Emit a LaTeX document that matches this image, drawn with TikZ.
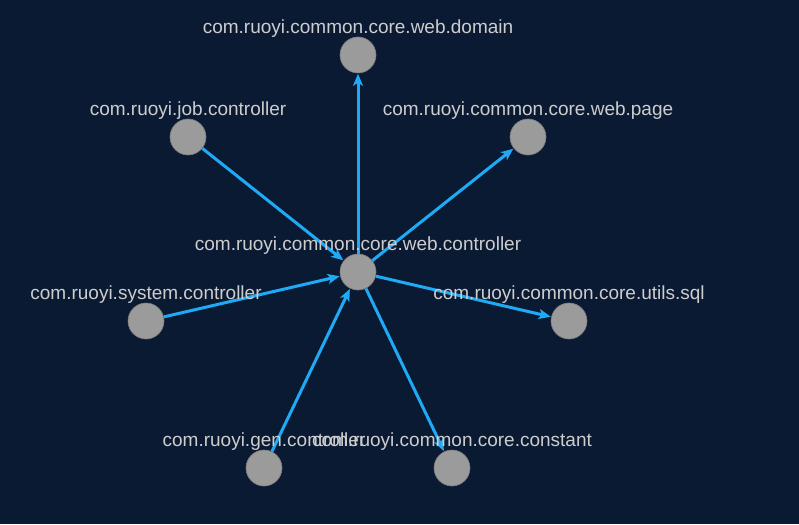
\documentclass[tikz,border=0pt]{standalone}
\usepackage{fontspec}
\setmainfont{Liberation Sans}
\usetikzlibrary{arrows.meta}
\definecolor{bgNavy}{RGB}{11, 26, 51}
\definecolor{edgeBlue}{RGB}{30, 170, 245}
\definecolor{dotGray}{RGB}{155, 155, 155}
\definecolor{labelGray}{RGB}{205, 205, 205}
\pgfdeclarelayer{bg}
\pgfdeclarelayer{edges}
\pgfsetlayers{bg,edges,main}

\begin{document}
\begin{tikzpicture}[x=1pt, y=-1pt,
    pkg/.style={circle, fill=dotGray, draw=dotGray!80!black, line width=0.6pt, minimum size=36pt, inner sep=0pt},
    pkglabel/.style={text=labelGray, font=\fontsize{19}{22}\selectfont, inner sep=0pt},
    dep/.style={edgeBlue, line width=3pt, -{Stealth[length=12pt, width=10pt, inset=3pt]}, shorten >=0.5pt}]
        \begin{pgfonlayer}{bg}
        \fill[bgNavy] (0,0) rectangle (799,524);
        \end{pgfonlayer}
        \useasboundingbox (0,0) rectangle (799,524);
        % packages
        \node[pkg] (ctrl) at (358,272) {};
        \node[pkg] (domain) at (358,55) {};
        \node[pkg] (job) at (188,137) {};
        \node[pkg] (page) at (528,137) {};
        \node[pkg] (sys) at (146,321) {};
        \node[pkg] (sql) at (569,321) {};
        \node[pkg] (gen) at (264,468) {};
        \node[pkg] (const) at (452,468) {};
        % dependencies
        \begin{pgfonlayer}{edges}
        \draw[dep] (ctrl) -- (domain);
        \draw[dep] (ctrl) -- (page);
        \draw[dep] (ctrl) -- (sql);
        \draw[dep] (ctrl) -- (const);
        \draw[dep] (job) -- (ctrl);
        \draw[dep] (sys) -- (ctrl);
        \draw[dep] (gen) -- (ctrl);
        \end{pgfonlayer}
        % labels
        \node[pkglabel] at ([yshift=26pt]ctrl.center) {com.ruoyi.common.core.web.controller};
        \node[pkglabel] at ([yshift=26pt]domain.center) {com.ruoyi.common.core.web.domain};
        \node[pkglabel] at ([yshift=26pt]job.center) {com.ruoyi.job.controller};
        \node[pkglabel] at ([yshift=26pt]page.center) {com.ruoyi.common.core.web.page};
        \node[pkglabel] at ([yshift=26pt]sys.center) {com.ruoyi.system.controller};
        \node[pkglabel] at ([yshift=26pt]sql.center) {com.ruoyi.common.core.utils.sql};
        \node[pkglabel] at ([yshift=26pt]gen.center) {com.ruoyi.gen.controller};
        \node[pkglabel] at ([yshift=26pt]const.center) {com.ruoyi.common.core.constant};
      \end{tikzpicture}
\end{document}
